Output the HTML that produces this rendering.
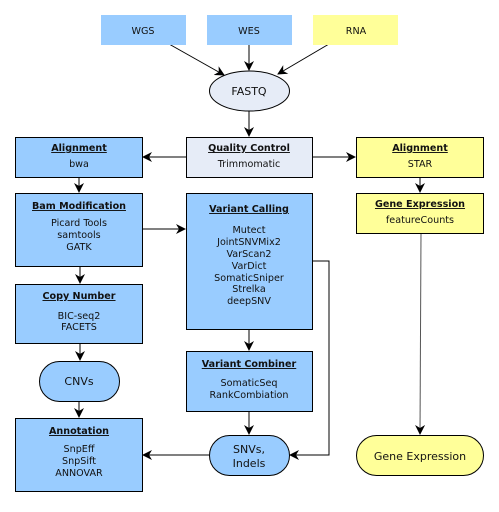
<!DOCTYPE html>
<html><head><meta charset="utf-8"><style>
body{margin:0;background:#fff}
svg text{font-family:"DejaVu Sans","Liberation Sans",sans-serif;font-size:9.6px;fill:#111;text-anchor:middle}
.b{font-weight:bold;text-decoration:underline}
</style></head><body>
<svg width="499" height="507" viewBox="0 0 499 507">
<defs><marker id="a" markerWidth="10" markerHeight="10" refX="9" refY="5" orient="auto" markerUnits="userSpaceOnUse"><path d="M0,0 L10,5 L0,10 L3,5 Z" fill="#000"/></marker></defs>
<g stroke="#000" stroke-width="1" fill="none">
<line x1="169" y1="44" x2="224" y2="75" marker-end="url(#a)"/>
<line x1="249" y1="45" x2="249" y2="70" marker-end="url(#a)"/>
<line x1="329" y1="44" x2="278" y2="74" marker-end="url(#a)"/>
<line x1="249" y1="111" x2="249" y2="136" marker-end="url(#a)"/>
<line x1="186" y1="157" x2="143" y2="157" marker-end="url(#a)"/>
<line x1="312" y1="157" x2="355" y2="157" marker-end="url(#a)"/>
<line x1="79" y1="177" x2="79" y2="192" marker-end="url(#a)"/>
<line x1="420" y1="177" x2="420" y2="192" marker-end="url(#a)"/>
<line x1="142" y1="229" x2="185" y2="229" marker-end="url(#a)"/>
<line x1="80" y1="266" x2="80" y2="283" marker-end="url(#a)"/>
<line x1="80" y1="343" x2="80" y2="360" marker-end="url(#a)"/>
<line x1="79" y1="401" x2="79" y2="417" marker-end="url(#a)"/>
<line x1="249" y1="329" x2="249" y2="350" marker-end="url(#a)"/>
<line x1="249" y1="411" x2="249" y2="434" marker-end="url(#a)"/>
<line x1="209" y1="455" x2="143" y2="455" marker-end="url(#a)"/>
<polyline points="312,261 329,261 329,455 290,455" marker-end="url(#a)"/>
<line x1="421" y1="233" x2="420" y2="434" stroke="#555" marker-end="url(#a)"/>
</g>
<rect x="101" y="15" width="85" height="30" fill="#99ccff"/>
<rect x="207" y="15" width="85" height="30" fill="#99ccff"/>
<rect x="313" y="15" width="85" height="30" fill="#ffff99"/>
<text x="143" y="34">WGS</text><text x="249" y="34">WES</text><text x="356" y="34">RNA</text>
<ellipse cx="249.5" cy="91" rx="40" ry="20" fill="#e6ecf7" stroke="#000"/>
<text x="249" y="95" style="font-size:11px">FASTQ</text>
<g stroke="#000" stroke-width="1">
<rect x="15.5" y="137.5" width="127" height="40" fill="#99ccff"/>
<rect x="186.5" y="137.5" width="126" height="40" fill="#e6ecf7"/>
<rect x="356.5" y="137.5" width="127" height="40" fill="#ffff99"/>
<rect x="15.5" y="193.5" width="127" height="73" fill="#99ccff"/>
<rect x="186.5" y="193.5" width="126" height="136" fill="#99ccff"/>
<rect x="356.5" y="193.5" width="127" height="40" fill="#ffff99"/>
<rect x="15.5" y="284.5" width="127" height="59" fill="#99ccff"/>
<rect x="39.5" y="361.5" width="80" height="40" rx="20" fill="#99ccff"/>
<rect x="186.5" y="351.5" width="126" height="60" fill="#99ccff"/>
<rect x="15.5" y="418.5" width="127" height="73" fill="#99ccff"/>
<rect x="209.5" y="435.5" width="80" height="40" rx="20" fill="#99ccff"/>
<rect x="356.5" y="435.5" width="127" height="40" rx="20" fill="#ffff99"/>
</g>
<text x="79" y="151" class="b">Alignment</text><text x="79" y="167">bwa</text>
<text x="249" y="151" class="b">Quality Control</text><text x="249" y="167">Trimmomatic</text>
<text x="420" y="151" class="b">Alignment</text><text x="420" y="167">STAR</text>
<text x="79" y="209" class="b">Bam Modification</text><text x="79" y="226">Picard Tools</text><text x="79" y="238">samtools</text><text x="79" y="250">GATK</text>
<text x="249" y="212" class="b">Variant Calling</text>
<text x="249" y="233">Mutect</text><text x="249" y="245">JointSNVMix2</text><text x="249" y="257">VarScan2</text><text x="249" y="269">VarDict</text><text x="249" y="281">SomaticSniper</text><text x="249" y="292">Strelka</text><text x="249" y="304">deepSNV</text>
<text x="420" y="207" class="b">Gene Expression</text><text x="420" y="223">featureCounts</text>
<text x="79" y="299" class="b">Copy Number</text><text x="79" y="319">BIC-seq2</text><text x="79" y="330">FACETS</text>
<text x="79" y="385" style="font-size:11px">CNVs</text>
<text x="249" y="367" class="b">Variant Combiner</text><text x="249" y="386">SomaticSeq</text><text x="249" y="398">RankCombiation</text>
<text x="79" y="434" class="b">Annotation</text><text x="79" y="452">SnpEff</text><text x="79" y="464">SnpSift</text><text x="79" y="476">ANNOVAR</text>
<text x="249" y="453" style="font-size:11px">SNVs,</text><text x="249" y="467" style="font-size:11px">Indels</text>
<text x="420" y="460" style="font-size:11px">Gene Expression</text>
</svg>
</body></html>
